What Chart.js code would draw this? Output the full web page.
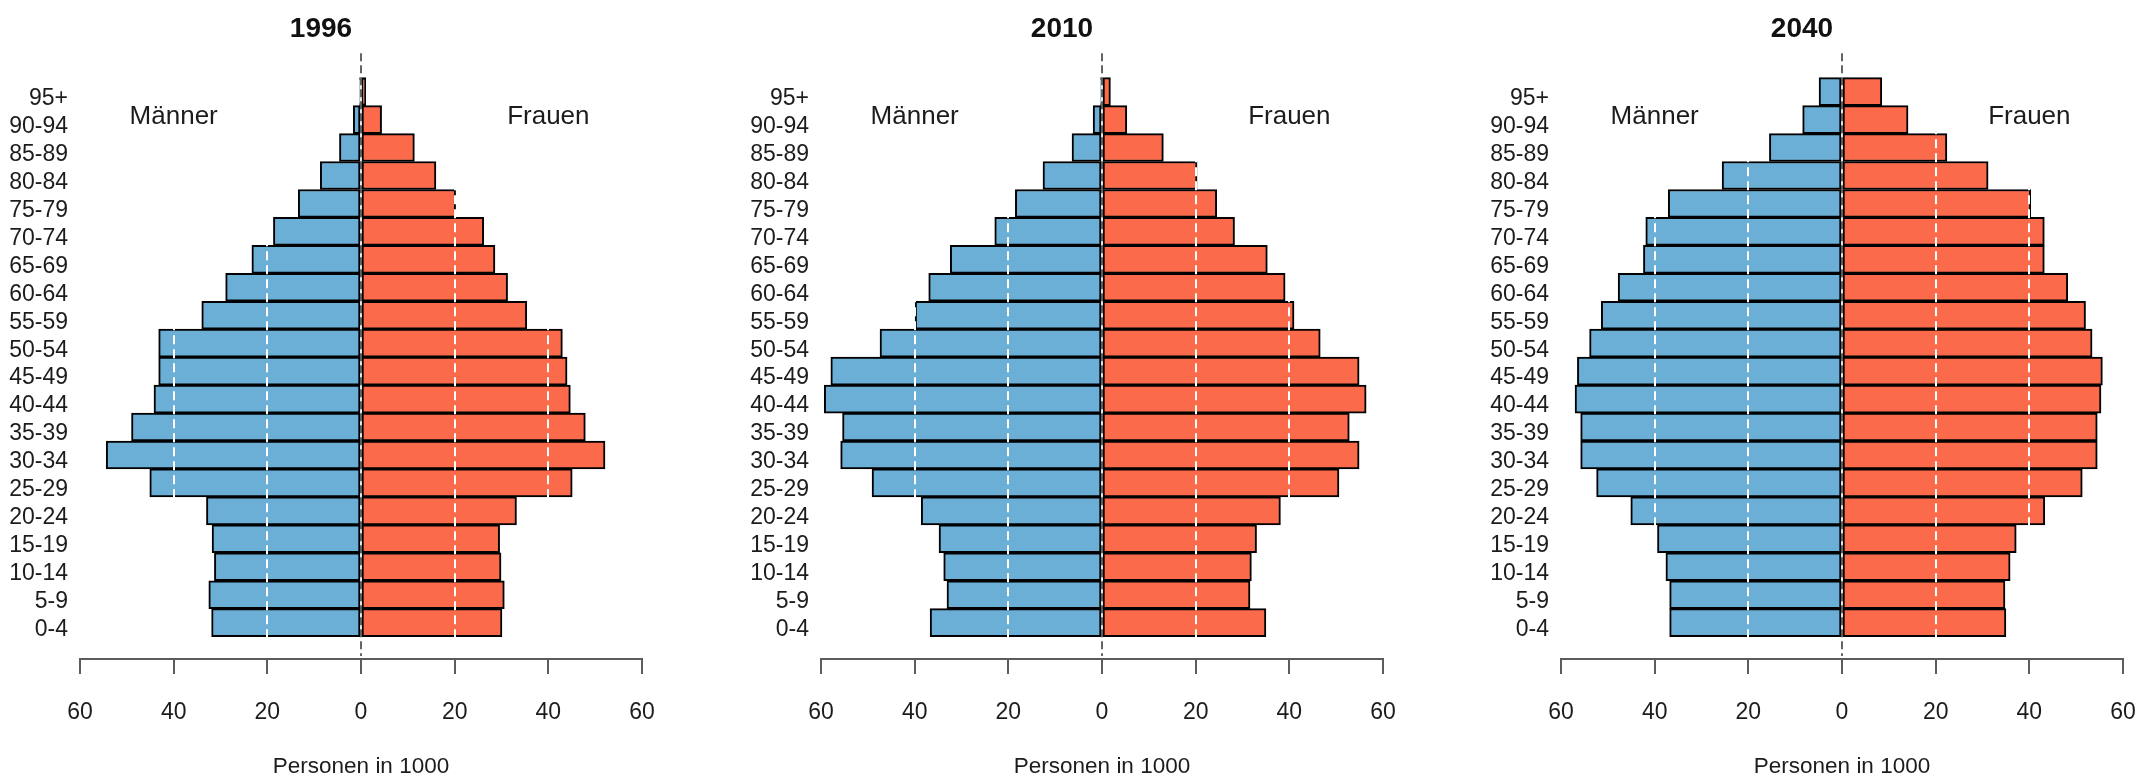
<!DOCTYPE html>
<html lang="de">
<head>
<meta charset="utf-8">
<title>Bevölkerungspyramiden 1996, 2010, 2040</title>
<script src="https://cdn.jsdelivr.net/npm/chart.js@4/dist/chart.umd.min.js"></script>
<style>
  html, body { margin: 0; padding: 0; background: #ffffff; }
  body { width: 2138px; height: 778px; overflow: hidden; position: relative; }
  .panel { position: absolute; top: 0; width: 722px; height: 778px; }
  .panel canvas { display: block; }
</style>
</head>
<body>
<div class="panel" style="left:0px"><canvas id="p1996" width="722" height="778"></canvas></div>
<div class="panel" style="left:741px"><canvas id="p2010" width="722" height="778"></canvas></div>
<div class="panel" style="left:1481px"><canvas id="p2040" width="722" height="778"></canvas></div>
<script>
// Altersgruppen, von unten (jüngste) nach oben (älteste)
const ageGroups = ['0-4', '5-9', '10-14', '15-19', '20-24', '25-29', '30-34', '35-39', '40-44', '45-49',
                   '50-54', '55-59', '60-64', '65-69', '70-74', '75-79', '80-84', '85-89', '90-94', '95+'];

// Personen in 1000, je Altersgruppe
const men1996   = [31.9, 32.5, 31.3, 31.8, 33.0, 45.1, 54.4, 49.0, 44.2, 43.2, 43.2, 34.0, 28.9, 23.3, 18.7, 13.4, 8.7, 4.6, 1.65, 0.3];
const women1996 = [30.1, 30.6, 29.9, 29.6, 33.2, 45.1, 52.1, 47.9, 44.7, 44.0, 43.0, 35.4, 31.3, 28.6, 26.2, 20.2, 16.0, 11.4, 4.4, 1.0];

const men2010   = [36.7, 33.1, 33.8, 34.8, 38.6, 49.1, 55.8, 55.4, 59.3, 57.9, 47.4, 39.9, 37.0, 32.4, 22.9, 18.5, 12.6, 6.4, 1.9, 0.3];
const women2010 = [35.0, 31.6, 31.9, 33.0, 38.1, 50.6, 54.9, 52.8, 56.4, 54.9, 46.6, 41.0, 39.1, 35.3, 28.3, 24.5, 20.3, 13.1, 5.3, 1.8];

const men2040   = [36.8, 36.8, 37.6, 39.4, 45.1, 52.4, 55.8, 55.8, 57.0, 56.5, 53.9, 51.4, 47.8, 42.4, 41.9, 37.1, 25.6, 15.5, 8.4, 4.9];
const women2040 = [35.0, 34.8, 35.9, 37.2, 43.3, 51.3, 54.5, 54.5, 55.3, 55.6, 53.4, 52.0, 48.2, 43.2, 43.2, 40.3, 31.2, 22.4, 14.1, 8.5];

const years = ['1996', '2010', '2040'];

// Achsen: Beträge links (Männer) und rechts (Frauen)
const xTickValues = [-60, -40, -20, 0, 20, 40, 60];
const guideValues = [-40, -20, 20, 40];
const axisTitle = 'Personen in 1000';

// Beschriftung der beiden Hälften (x in 1000 Personen, y in Altersgruppen-Index)
const sideLabels = [
  { text: 'Männer', x: -40, y: 18.1 },
  { text: 'Frauen', x: 40, y: 18.1 }
];

const FONT = "'Liberation Sans', Arial, Helvetica, sans-serif";
const TEXT = '#1c1c1c';
const BLUE = '#6BAED6';
const RED = '#FB6A4A';

// Gestrichelte Hilfslinien und Beschriftung über den Balken
const pyramidOverlay = {
  id: 'pyramidOverlay',
  afterDatasetsDraw(chart) {
    const { ctx, chartArea: a, scales: { x, y } } = chart;
    ctx.save();

    ctx.strokeStyle = '#ffffff';
    ctx.lineWidth = 2;
    ctx.setLineDash([9, 5]);
    guideValues.forEach(v => {
      const px = Math.round(x.getPixelForValue(v));
      ctx.beginPath();
      ctx.moveTo(px, a.top);
      ctx.lineTo(px, a.bottom - 2);
      ctx.stroke();
    });

    ctx.strokeStyle = '#333333';
    ctx.lineWidth = 1.5;
    ctx.setLineDash([8, 4]);
    const zx = Math.round(x.getPixelForValue(0));
    ctx.beginPath();
    ctx.moveTo(zx, a.top - 2);
    ctx.lineTo(zx, a.bottom - 3);
    ctx.stroke();

    ctx.setLineDash([]);
    ctx.fillStyle = TEXT;
    ctx.font = '26px ' + FONT;
    ctx.textAlign = 'center';
    ctx.textBaseline = 'middle';
    sideLabels.forEach(l => {
      ctx.fillText(l.text, x.getPixelForValue(l.x), y.getPixelForValue(l.y));
    });
    ctx.restore();
  }
};

function buildPyramid(canvasId, year, men, women) {
  return new Chart(document.getElementById(canvasId), {
    type: 'bar',
    data: {
      datasets: [
        {
          label: 'Männer',
          data: men.map((v, i) => ({ x: -v, y: i })),
          backgroundColor: BLUE
        },
        {
          label: 'Frauen',
          data: women.map((v, i) => ({ x: v, y: i })),
          backgroundColor: RED
        }
      ]
    },
    options: {
      indexAxis: 'y',
      responsive: false,
      devicePixelRatio: 1,
      animation: false,
      datasets: {
        bar: {
          grouped: false,
          categoryPercentage: 1,
          barPercentage: 1,
          borderColor: '#000000',
          borderWidth: 2,
          borderSkipped: false
        }
      },
      layout: { padding: { left: 0, right: 80, top: 0, bottom: 0 } },
      plugins: {
        legend: { display: false },
        tooltip: { enabled: false },
        title: {
          display: true,
          text: year,
          color: '#111111',
          font: { family: FONT, size: 28, weight: 'bold', lineHeight: 1.2 },
          padding: { top: 12, bottom: 9.7 }
        }
      },
      scales: {
        x: {
          type: 'linear',
          bounds: 'data',
          offset: false,
          min: -60,
          max: 60,
          afterBuildTicks: s => { s.ticks = xTickValues.map(v => ({ value: v })); },
          ticks: {
            callback: v => String(Math.abs(v)),
            color: TEXT,
            font: { family: FONT, size: 23, lineHeight: 1.2 },
            padding: 25,
            maxRotation: 0,
            autoSkip: false
          },
          grid: {
            display: true,
            offset: false,
            drawOnChartArea: false,
            drawTicks: true,
            tickLength: 15,
            color: '#5c5c5c',
            lineWidth: 2
          },
          border: { display: true, color: '#5c5c5c', width: 2 },
          title: {
            display: true,
            text: axisTitle,
            color: TEXT,
            font: { family: FONT, size: 22.5, lineHeight: 1.0 },
            padding: { top: 29, bottom: 0 }
          },
          afterFit: s => { s.height = 119; }
        },
        y: {
          type: 'linear',
          bounds: 'data',
          offset: false,
          min: -1.3,
          max: 20.3,
          afterBuildTicks: s => { s.ticks = ageGroups.map((_, i) => ({ value: i })); },
          ticks: {
            callback: v => ageGroups[v],
            color: TEXT,
            font: { family: FONT, size: 23, lineHeight: 1.0 },
            padding: 4,
            labelOffset: 7,
            autoSkip: false
          },
          grid: { display: false, offset: false },
          border: { display: false },
          afterFit: s => { s.width = 80; }
        }
      }
    },
    plugins: [pyramidOverlay]
  });
}

buildPyramid('p1996', years[0], men1996, women1996);
buildPyramid('p2010', years[1], men2010, women2010);
buildPyramid('p2040', years[2], men2040, women2040);
</script>
</body>
</html>
